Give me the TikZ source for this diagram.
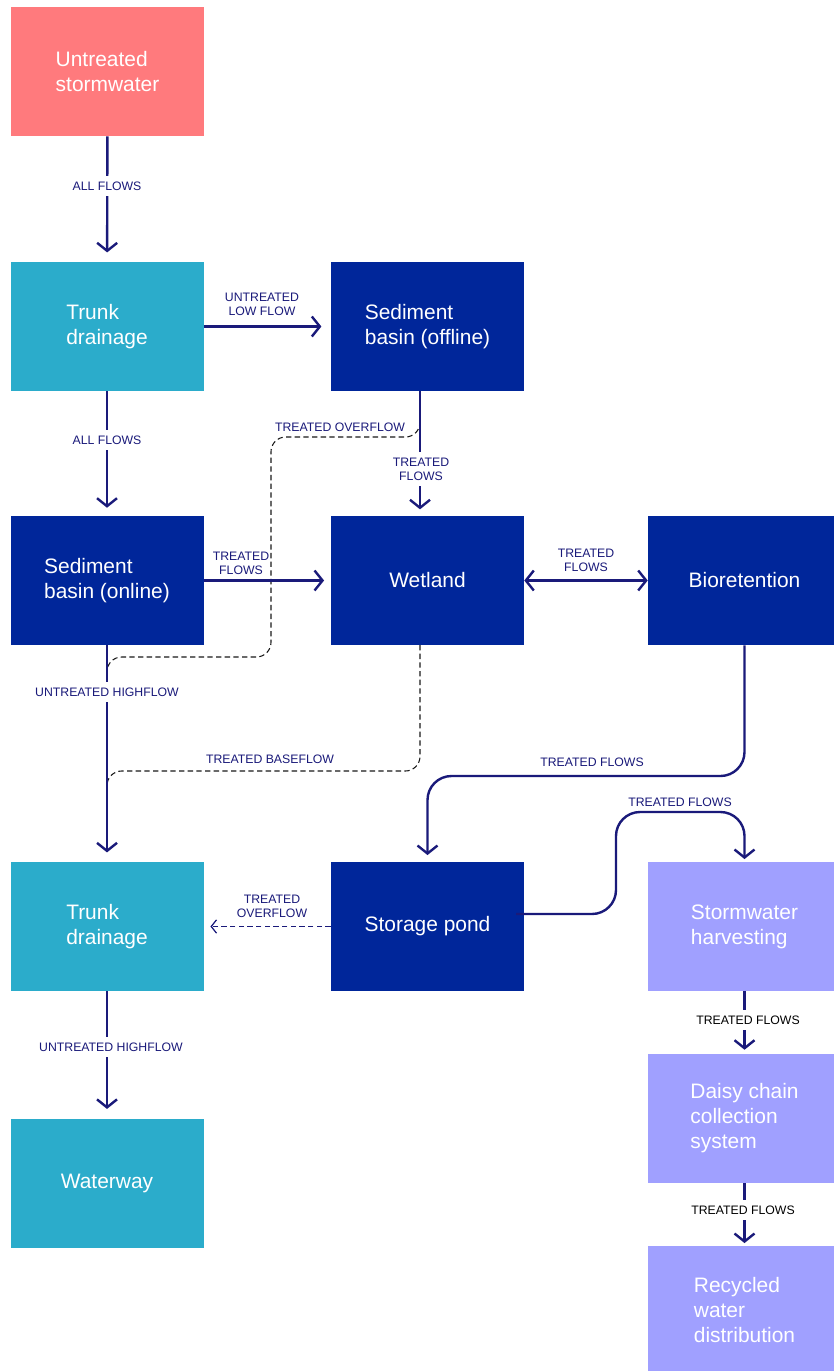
\documentclass[tikz,border=0pt]{standalone}
\usepackage{fontspec}
\setmainfont{Liberation Sans}
\usetikzlibrary{arrows.meta}

\definecolor{stormred}{RGB}{255,122,125}
\definecolor{drainteal}{RGB}{43,172,203}
\definecolor{basinblue}{RGB}{0,38,154}
\definecolor{reuselilac}{RGB}{160,160,255}
\definecolor{flownavy}{RGB}{26,26,122}

\begin{document}
\begin{tikzpicture}[x=0.75pt, y=-0.75pt,
  >={Straight Barb[length=6pt,width=15pt]},
  box/.style={minimum width=144.75pt, minimum height=96.75pt, inner sep=0pt,
    text=white, align=left, font=\fontsize{15.7}{18.75}\selectfont},
  flow/.style={draw=flownavy, line width=1.8pt},
  overflow/.style={draw=flownavy, line width=0.9pt, dash pattern=on 4pt off 2.5pt,
    -{Straight Barb[length=4pt,width=10pt]}, shorten >=5pt},
  seep/.style={draw=black!90, line width=0.8pt, dash pattern=on 4pt off 2.5pt,
    rounded corners=11pt},
  tag/.style={text=flownavy, align=center, inner sep=1pt,
    font=\fontsize{9.2}{10.5}\selectfont},
  ontag/.style={tag, fill=white, inner ysep=4pt}]

  \clip (0,0) rectangle (834,1371);
  \fill[white] (0,0) rectangle (834,1371);

  \node[box, fill=stormred]   (storm)    at (107.5,71.5)  {Untreated\\stormwater};
  \node[box, fill=drainteal]  (trunkA)   at (107,326.5)   {Trunk\\drainage};
  \node[box, fill=basinblue]  (sedoff)   at (427.5,326.5) {Sediment\\basin (offline)};
  \node[box, fill=basinblue]  (sedon)    at (107,580.5)   {Sediment\\basin (online)};
  \node[box, fill=basinblue]  (wetland)  at (427.5,580.5) {Wetland};
  \node[box, fill=basinblue]  (bioret)   at (744.5,580.5) {Bioretention};
  \node[box, fill=drainteal]  (trunkB)   at (107,926.5)   {Trunk\\drainage};
  \node[box, fill=basinblue]  (pond)     at (427.5,926.5) {Storage pond};
  \node[box, fill=reuselilac] (harvest)  at (744.5,926.5) {Stormwater\\harvesting};
  \node[box, fill=drainteal]  (waterway) at (107,1183)    {Waterway};
  \node[box, fill=reuselilac] (daisy)    at (744.5,1118.5) {Daisy chain\\collection\\system};
  \node[box, fill=reuselilac] (recycled) at (744.5,1310.5) {Recycled\\water\\distribution};

  \coordinate (offdrop) at (420,391);
  \coordinate (offtap)  at (420,412);
  \coordinate (wetin)   at (420,516);
  \coordinate (wetdrop) at (420,645);
  \coordinate (pondout) at (516,914);

  \draw[seep] (offtap) -- (420,437) -- (271,437) -- (271,657) -- (107,657) -- (107,685);
  \draw[seep] (wetdrop) -- (420,771) -- (107,771) -- (107,800);

  \draw[flow, ->, shorten >=7pt] (storm) -- (trunkA);
  \draw[flow, ->, shorten >=7pt] (trunkA) -- (sedoff);
  \draw[flow, ->, shorten >=6pt] (trunkA) -- (sedon);
  \draw[flow, ->, shorten >=5pt] (offdrop) -- (wetin);
  \draw[flow, ->, shorten >=5pt] (sedon) -- (wetland);
  \draw[flow, <->] (wetland) -- (bioret);
  \draw[flow, ->, shorten >=7pt] (sedon) -- (trunkB);
  \draw[flow, ->, rounded corners=18pt, shorten >=5pt]
    (bioret.south) -- (744.5,776) -- (427.5,776) -- (pond.north);
  \draw[flow, ->, rounded corners=18pt, shorten >=2pt]
    (pondout) -- (616,914) -- (616,812) -- (744.5,812) -- (harvest.north);
  \draw[overflow] (pond) -- (trunkB);
  \draw[flow, ->, shorten >=7pt] (trunkB) -- (waterway);
  \draw[flow, ->, shorten >=3pt] (harvest) -- (daisy);
  \draw[flow, ->, shorten >=2pt] (daisy) -- (recycled);

  \node[ontag] (allA)     at (107,186)  {ALL FLOWS};
  \node[tag]   (lowflow)  at (262,304)  {UNTREATED\\LOW FLOW};
  \node[ontag] (allB)     at (107,440)  {ALL FLOWS};
  \node[tag]   (overA)    at (340,427)  {TREATED OVERFLOW};
  \node[ontag] (offflows) at (421,469)  {TREATED\\FLOWS};
  \node[tag]   (onflows)  at (241,563)  {TREATED\\FLOWS};
  \node[tag]   (bioflows) at (586,560)  {TREATED\\FLOWS};
  \node[ontag] (highA)    at (107,692)  {UNTREATED HIGHFLOW};
  \node[tag]   (baseflow) at (270,759)  {TREATED BASEFLOW};
  \node[tag]   (pondflows) at (592,762) {TREATED FLOWS};
  \node[tag]   (harvflows) at (680,802) {TREATED FLOWS};
  \node[tag]   (overB)    at (272,906)  {TREATED\\OVERFLOW};
  \node[ontag] (highB)    at (111,1047) {UNTREATED HIGHFLOW};
  \node[ontag, text=black] (daisyflows) at (748,1020) {TREATED FLOWS};
  \node[ontag, text=black] (recflows)   at (743,1210) {TREATED FLOWS};
\end{tikzpicture}
\end{document}
